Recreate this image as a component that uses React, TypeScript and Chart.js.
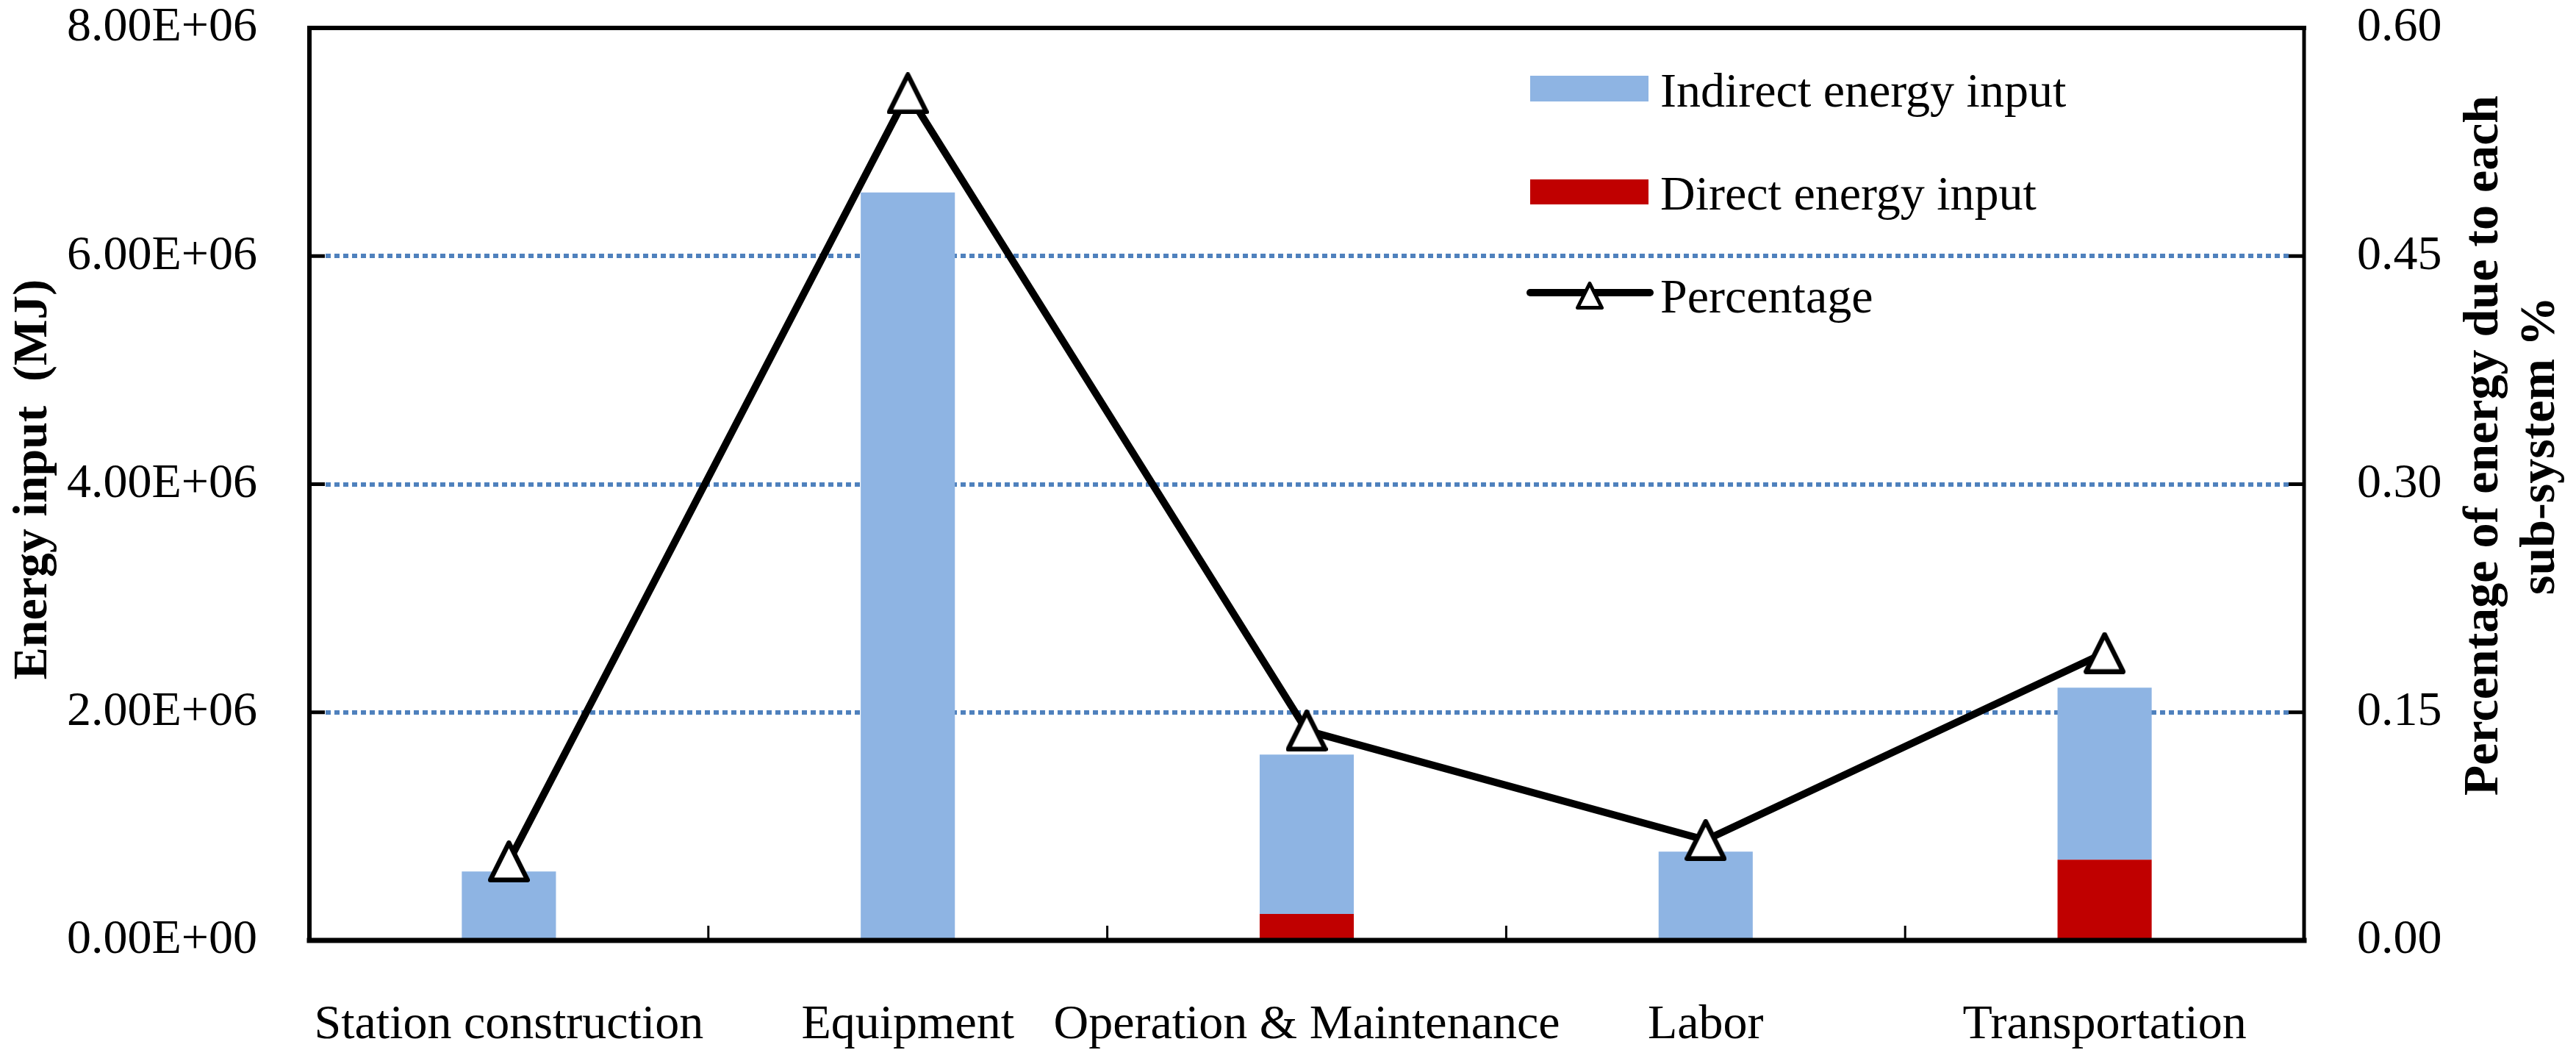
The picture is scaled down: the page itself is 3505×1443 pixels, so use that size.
import { useEffect, useRef } from "react";
import { Chart, registerables } from "chart.js";

Chart.register(...registerables);

// Data
const categories = [
  "Station construction",
  "Equipment",
  "Operation & Maintenance",
  "Labor",
  "Transportation",
];
const directEnergy = [0, 0, 0.232e6, 0, 0.708e6];
const indirectEnergy = [0.605e6, 6.557e6, 1.398e6, 0.779e6, 1.508e6];
const percentage = [0.052, 0.557, 0.138, 0.066, 0.189];
const leftTickLabels = ["0.00E+00", "2.00E+06", "4.00E+06", "6.00E+06", "8.00E+06"];
const rightTickLabels = ["0.00", "0.15", "0.30", "0.45", "0.60"];

const W = 3505;
const H = 1443;
const SERIF = "'Liberation Serif', 'Times New Roman', serif";
const BLUE = "#8EB4E3";
const RED = "#C00000";
const GRID = "#4F81BD";

// Excel-like triangle marker (isoceles, white fill, black outline)
const makeTriangle = (size: number, lw: number) => {
  const c = document.createElement("canvas");
  c.width = size;
  c.height = size;
  const g = c.getContext("2d")!;
  const h = lw / 2;
  g.beginPath();
  g.moveTo(size / 2, h);
  g.lineTo(size - h, size - h);
  g.lineTo(h, size - h);
  g.closePath();
  g.fillStyle = "#ffffff";
  g.fill();
  g.lineWidth = lw;
  g.lineJoin = "round";
  g.strokeStyle = "#000000";
  g.stroke();
  return c;
};

const App: React.FC = () => {
  const chartRef = useRef<HTMLCanvasElement>(null);
  const chartInstance = useRef<Chart | null>(null);

  useEffect(() => {
    document.body.style.margin = "0";
    if (!chartRef.current) return;
    if (chartInstance.current) chartInstance.current.destroy();

    const marker = makeTriangle(57, 6.5);
    const legendMarker = makeTriangle(38, 5);

    // dotted grid lines behind the bars
    const gridPlugin = {
      id: "dottedGrid",
      beforeDatasetsDraw(chart: Chart) {
        const { ctx, chartArea: a, scales } = chart;
        const ticks = scales.y.ticks;
        ctx.save();
        ctx.strokeStyle = GRID;
        ctx.lineWidth = 6;
        ctx.setLineDash([7, 5]);
        ticks.forEach((t, i) => {
          if (i === 0 || i === ticks.length - 1) return;
          const py = Math.round(scales.y.getPixelForValue(t.value));
          ctx.beginPath();
          ctx.moveTo(a.left + 22, py);
          ctx.lineTo(a.right - 21, py);
          ctx.stroke();
        });
        ctx.restore();
      },
    };

    // frame, tick marks, axis titles and legend
    const framePlugin = {
      id: "frame",
      afterDraw(chart: Chart) {
        const { ctx, chartArea: a, scales } = chart;
        ctx.save();
        ctx.strokeStyle = "#000";
        ctx.lineCap = "butt";

        // inner tick marks
        ctx.lineWidth = 5;
        scales.y.ticks.forEach((t) => {
          const py = scales.y.getPixelForValue(t.value);
          ctx.beginPath();
          ctx.moveTo(a.left, py);
          ctx.lineTo(a.left + 21, py);
          ctx.stroke();
        });
        scales.y1.ticks.forEach((t) => {
          const py = scales.y1.getPixelForValue(t.value);
          ctx.beginPath();
          ctx.moveTo(a.right - 21, py);
          ctx.lineTo(a.right, py);
          ctx.stroke();
        });
        ctx.lineWidth = 3;
        for (let i = 1; i < categories.length; i++) {
          const px =
            (scales.x.getPixelForValue(i - 1) + scales.x.getPixelForValue(i)) / 2;
          ctx.beginPath();
          ctx.moveTo(px, a.bottom);
          ctx.lineTo(px, a.bottom - 20);
          ctx.stroke();
        }

        // frame
        ctx.lineCap = "square";
        ctx.lineWidth = 6;
        ctx.beginPath();
        ctx.moveTo(a.left, a.bottom);
        ctx.lineTo(a.left, a.top);
        ctx.lineTo(a.right, a.top);
        ctx.stroke();
        ctx.lineWidth = 5;
        ctx.beginPath();
        ctx.moveTo(a.right, a.top);
        ctx.lineTo(a.right, a.bottom);
        ctx.stroke();
        ctx.lineWidth = 7;
        ctx.beginPath();
        ctx.moveTo(a.left, a.bottom);
        ctx.lineTo(a.right, a.bottom);
        ctx.stroke();

        // axis titles
        ctx.fillStyle = "#000";
        ctx.textAlign = "center";
        ctx.textBaseline = "alphabetic";
        ctx.font = `bold 66px ${SERIF}`;
        ctx.save();
        ctx.translate(63, 652);
        ctx.rotate(-Math.PI / 2);
        ctx.fillText("Energy input  (MJ)", 0, 0);
        ctx.restore();
        ctx.font = `bold 68px ${SERIF}`;
        ctx.save();
        ctx.translate(3398, 606);
        ctx.rotate(-Math.PI / 2);
        ctx.fillText("Percentage of energy due to each", 0, 0);
        ctx.fillText("sub-system %", 0, 77);
        ctx.restore();

        // legend
        ctx.font = `66px ${SERIF}`;
        ctx.textAlign = "left";
        ctx.fillStyle = BLUE;
        ctx.fillRect(2082, 103, 161, 35);
        ctx.fillStyle = RED;
        ctx.fillRect(2082, 244, 161, 34);
        ctx.strokeStyle = "#000";
        ctx.lineWidth = 10;
        ctx.lineCap = "round";
        ctx.beginPath();
        ctx.moveTo(2082, 398);
        ctx.lineTo(2245, 398);
        ctx.stroke();
        ctx.drawImage(legendMarker, 2163 - 19, 383);
        ctx.fillStyle = "#000";
        ctx.fillText("Indirect energy input", 2259, 145);
        ctx.fillText("Direct energy input", 2259, 285);
        ctx.fillText("Percentage", 2259, 425);
        ctx.restore();
      },
    };

    const tickFont = { family: SERIF, size: 66, lineHeight: 1 };

    chartInstance.current = new Chart(chartRef.current, {
      type: "bar",
      data: {
        labels: categories,
        datasets: [
          {
            type: "line",
            label: "Percentage",
            data: percentage,
            yAxisID: "y1",
            borderColor: "#000",
            borderWidth: 10,
            borderJoinStyle: "round",
            pointStyle: marker,
            pointRadius: 28,
            order: 0,
          },
          {
            label: "Direct energy input",
            data: directEnergy,
            backgroundColor: RED,
            yAxisID: "y",
            barPercentage: 0.236,
            categoryPercentage: 1,
            order: 1,
          },
          {
            label: "Indirect energy input",
            data: indirectEnergy,
            backgroundColor: BLUE,
            yAxisID: "y",
            barPercentage: 0.236,
            categoryPercentage: 1,
            order: 1,
          },
        ],
      } as any,
      options: {
        responsive: false,
        devicePixelRatio: 1,
        animation: false,
        events: [],
        layout: { padding: { top: 37, left: 0, right: 0, bottom: 0 } },
        plugins: {
          legend: { display: false },
          tooltip: { enabled: false },
        },
        scales: {
          x: {
            stacked: true,
            offset: true,
            grid: { display: false, drawTicks: true, tickLength: 83 },
            border: { display: false },
            ticks: {
              color: "#000",
              font: tickFont,
              padding: 0,
              autoSkip: false,
              maxRotation: 0,
              minRotation: 0,
            },
            afterFit: (s: any) => {
              s.height = H - 1279;
            },
          },
          y: {
            type: "linear",
            position: "left",
            stacked: true,
            min: 0,
            max: 8e6,
            grid: { display: false, drawTicks: true, tickLength: 71 },
            border: { display: false },
            ticks: {
              stepSize: 2e6,
              color: "#000",
              font: tickFont,
              padding: 0,
              callback: (_v: any, i: number) => leftTickLabels[i],
            },
            afterFit: (s: any) => {
              s.width = 421;
            },
          },
          y1: {
            type: "linear",
            position: "right",
            min: 0,
            max: 0.6,
            grid: { display: false, drawTicks: true, tickLength: 72 },
            border: { display: false },
            ticks: {
              stepSize: 0.15,
              color: "#000",
              font: tickFont,
              padding: 0,
              callback: (_v: any, i: number) => rightTickLabels[i],
            },
            afterFit: (s: any) => {
              s.width = W - 3135;
            },
          },
        },
      } as any,
      plugins: [gridPlugin, framePlugin],
    });

    return () => {
      if (chartInstance.current) {
        chartInstance.current.destroy();
        chartInstance.current = null;
      }
    };
  }, []);

  return (
    <div style={{ width: W, height: H, background: "#fff" }}>
      <canvas
        ref={chartRef}
        width={W}
        height={H}
        style={{ display: "block", width: W, height: H }}
      ></canvas>
    </div>
  );
};

export default App;
